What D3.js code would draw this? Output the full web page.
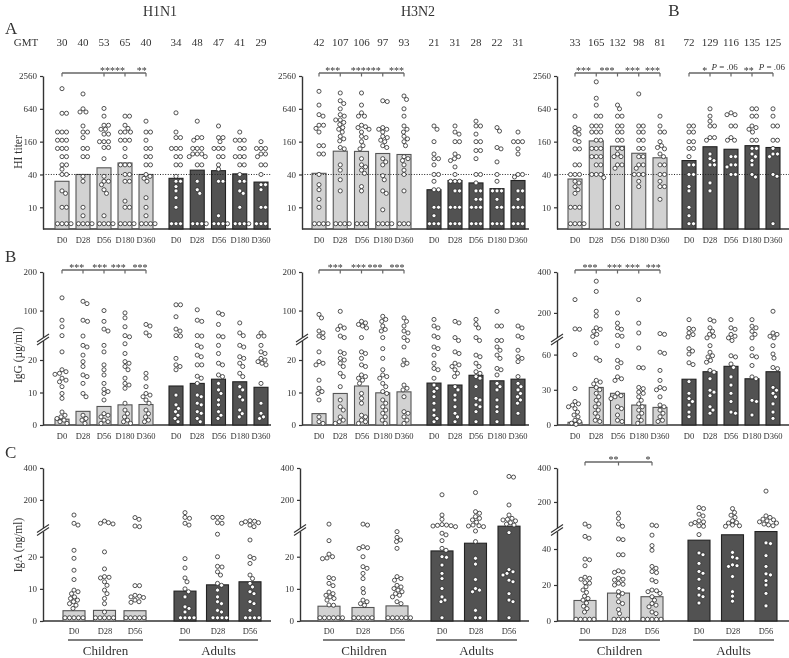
<!DOCTYPE html>
<html><head><meta charset="utf-8">
<script src="https://cdn.jsdelivr.net/npm/d3@7"></script>
<style>
body{margin:0;background:#fff}
svg{display:block;opacity:0.999;transform:translateZ(0)}
text{font-family:"Liberation Serif","DejaVu Serif",serif;fill:#333}
</style>
</head><body><svg id="c" width="789" height="658"></svg>
<script>
// ---------------- DATA ----------------
const strains = ["H1N1","H3N2","B"];
const days5 = ["D0","D28","D56","D180","D360"];
const days3 = ["D0","D28","D56"];
const groups = ["Children","Adults"];

const gmtChildren = [[30,40,53,65,40],[42,107,106,97,93],[33,165,132,98,81]];
const gmtAdults   = [[34,48,47,41,29],[21,31,28,22,31],[72,129,116,135,125]];
const hiTicks = [10,40,160,640,2560];

const hiChildren = [
 [[1500,530,530,240,240,240,170,170,170,120,120,120,85,85,60,60,50,40,40,20,18,10,10,5,5,5,5],
  [1200,640,560,560,310,240,240,190,120,120,85,85,37,30,10,7,5,5,5,5],
  [650,470,320,320,270,270,220,220,160,160,160,125,125,78,37,30,30,26,21,18,7,5,5,5,5],
  [470,470,320,280,240,240,240,170,170,170,120,85,60,60,60,40,40,30,30,13,10,10,5,5,5,5],
  [380,240,240,170,120,120,85,85,60,60,40,37,34,30,15,10,7,5,5,5,5]],
 [[1340,750,500,470,320,320,280,240,135,135,95,95,40,26,21,14,10,5,5,5,5],
  [1250,900,800,640,500,470,400,400,360,330,290,270,240,200,180,165,125,118,60,48,32,20,5,5,5,5],
  [1250,750,540,470,470,320,300,290,270,240,200,190,160,135,118,78,60,55,48,42,24,20,5,5,5],
  [900,870,290,270,270,240,200,190,170,160,135,125,78,68,60,38,32,20,18,9,5,5,5,5],
  [1100,950,640,470,310,270,240,200,180,160,135,85,78,72,60,48,40,20,5,5,5]],
 [[470,290,270,240,220,170,160,118,118,60,60,40,40,40,30,28,24,21,18,10,10,10,5,5,5,5],
  [2000,1000,750,470,470,310,310,310,240,240,240,170,170,120,120,120,85,85,85,60,60,40,40,40,35],
  [750,640,470,470,310,310,240,240,170,170,120,120,95,85,85,60,60,52,10,5],
  [1200,310,310,240,240,170,170,120,120,85,85,60,60,52,40,40,40,30,24],
  [470,310,240,240,160,135,125,118,95,85,60,60,40,40,30,24,24,14]]
];
const hiAdults = [
 [[540,240,190,190,120,120,120,85,85,60,60,37,30,30,24,20,15,10,5,5,5],
  [380,190,190,170,120,120,120,95,95,95,85,85,60,60,30,21,18,5,5,5,5],
  [310,190,190,160,120,120,120,85,85,60,50,30,30,7,5,5,5,5],
  [240,170,170,170,120,120,85,85,85,60,60,40,30,30,20,18,10,5,5,5,5],
  [160,120,120,120,95,95,85,60,60,40,26,26,21,10,10,5,5,5]],
 [[310,270,160,95,78,78,60,40,40,30,21,21,10,10,7,5,5,5],
  [310,240,220,160,160,95,85,78,72,55,40,30,30,30,20,20,10,10,10,5,5,5],
  [380,310,310,220,160,160,110,110,78,40,40,28,20,20,14,14,10,10,10,5,5,5],
  [290,250,125,118,68,40,30,20,20,20,14,10,10,5,5,5],
  [240,160,160,160,118,95,40,40,36,20,20,14,10,10,10,5,5,5]],
 [[310,310,240,240,160,160,120,120,85,60,60,40,40,24,20,10,7,5,5],
  [640,470,380,310,310,190,190,170,95,78,72,60,60,28,20],
  [540,500,500,310,310,190,170,170,85,85,60,60,55,40,40],
  [640,640,470,470,310,290,270,240,170,170,120,120,95,85,72,60,40,36],
  [640,470,310,310,170,170,120,95,95,85,40,37,5]]
];

const igGChildMean = [[1.8,4.2,5.7,6.2,6.3],[3.5,9.7,12,9.9,10.2],[2.3,32,27,17,15]];
const igGAdultMean = [[12,12.8,14.1,13.3,11.6],[12.9,12.3,15.3,13.6,14.1],[39,45.4,50,39.4,45.4]];
const igGTicksLow = [[0,10,20],[0,10,20],[0,30,60]];
const igGTicksHigh = [[100,200],[100,200],[200,400]];

const igGChildren = [
 [[133,75,58,35,22.5,17,16.4,15.9,15.6,14.4,13.8,13.3,11.8,9.7,8.2,4,3,2.5,2,1.5,1,0.5],
  [124,118,75,72,34,24.5,24,21.5,19.5,18,15.4,14.9,12.8,9.7,8.7,3,2,1.5,0.5],
  [100,72,52,47,24.5,22.5,18.5,17,15.4,12.8,11,10.3,9.7,7.7,3.5,3,2.5,1.5,1,0.5],
  [94,81,58,35,32,25,22,19.5,19,18,17,14.4,12.8,12.3,11.3,6.7,4.6,3.5,2.5,1.5,1,0.5],
  [64,60,42,35,15.9,14.4,11.8,9.7,9.2,8.7,7.7,6.7,4.6,3.5,2.5,1.5,1]],
 [[90,81,47,42,34,30,22.5,19.5,19,18.5,13.8,11.3,10.3,9.7,7.7,2.5,1,0.5],
  [98,60,55,51,34,30,22.5,22,20.5,20,19,18,15.9,14.9,11.8,7.7,5.6,4.6,2.5,1.5,1,0.5],
  [72,68,64,60,55,30,22.5,22,20.5,18.5,18,15.4,14.9,14.4,13.8,12.8,9.7,8.2,6.7,3,2.5,1.5,1,0.5],
  [85,77,72,60,51,47,30,23.5,20.5,17,15.4,14.9,14.4,12.8,11.8,10.3,9.7,7.7,6.7,5.6,4.6,3.6,2.5,1.5,0.5],
  [81,72,60,47,42,30,26,24,20,19,18.5,12.3,11.3,10.8,8.7,4.1,3.6,2.5,1.5,0.5]],
 [[265,122,120,60,31,20,18,17,15.5,14,11,8.5,7,4,3,1.5,0.5],
  [355,305,208,185,127,120,110,95,85,70,57,55,38,36.6,35,32,30,27,24,21,18,15.5,12.7,10,7,4,3],
  [200,150,127,120,90,86,67.6,55,53,49,41,39.4,38,27,25,24,22.5,15.5,14,8.5,4,3],
  [265,150,102,65.6,49,48.7,32,31,28,27,24,21,18,15.5,12.7,10,7,4,1.5],
  [99,95,62,61,46.5,38,32,31,30,24,17,15.5,12.7,10,7,4,3]]
];
const igGAdults = [
 [[115,115,84,52,47,35,34,20.5,18.5,18,17,9.2,6.2,5.1,4.1,3,2,1],
  [102,75,72,35,34,24.5,24,21.5,21,18.5,18.5,15,14.4,12.8,9.2,8.7,6.7,6.2,4.1,3.6,2,1],
  [94,90,64,34,32,24.5,22,19,18.5,15.4,14.9,12.8,10.8,9.7,7.7,6.2,4.1,3,2],
  [68,42,35,24.5,24,21,20.5,19,18,15.9,14.9,11.8,10.8,8.7,7.7,4.6,3.5,2.5],
  [42,34,33,24.5,22.5,22,20.5,20,19.5,19,18.5,12.8,6.7,3.6,2.5,2]],
 [[77,60,55,34,30,24,23.5,21.5,19,17.4,17,14.4,12.3,11.3,10.3,8.7,6.7,4.6,3,2,1],
  [72,68,30,26,22.5,22,19,18.5,18,17,15.9,14.9,11.8,10.8,9.2,7.7,5.6,3.6,2.5,1],
  [77,64,55,30,26,21.5,21,19,18,16.4,15.9,14.9,14.4,11.8,8.2,7.7,6.2,5.6,4.1,1],
  [98,60,60,26,26,24,23,21.5,20.5,17.4,17,15.4,12.8,11.8,10.8,7.7,5.6,4.1,1],
  [60,55,34,30,23,21,20.5,19.5,14.9,12.8,11.8,10.8,9.7,8.7,7.7,6.7,3.6]],
 [[167,124,120,102,94,82,65,63,60.5,53,51.5,37,27,22.5,20,17,11,7],
  [167,160,127,110,95,86,78,67.6,62,59,58,55,53.5,46.5,45,39.4,29.6,28,25,15.5,12.7,10],
  [167,127,120,95,86,78,72,59,58,52,49,41,34,27,20,11,10],
  [167,135,127,110,95,78,65,59,58,50.7,41,39.4,21,20,8.5],
  [208,102,95,86,78,67.6,60.5,57,49,48,32,29.6,27,24,18,11,5.6]]
];

const igAChildMean = [[3.2,3.3,3.2],[4.6,4.2,4.7],[11.4,15.5,13.5]];
const igAAdultMean = [[9.3,11.25,12.2],[21.8,24.2,35],[44.9,47.9,49.7]];
const igATicksLow = [[0,10,20],[0,10,20],[0,20,40]];
const igATicksHigh = [[200,400],[200,400],[200,400]];

const igAChildren = [
 [[105,53,42,22,19.5,15.8,12.9,9.6,9.1,8.5,7.5,7,6.5,6,5.4,4.9,3.9,1,1,1,1,1],
  [67,57,53,49,21.5,16.2,13.8,13.6,13.4,12.2,11.1,9.6,8.5,7,5.4,2.8,1,1,1,1,1],
  [89,78,36,32,11,11,8,7.7,7.5,7.3,6.5,6,5.8,1,1,1,1,1]],
 [[48,25,20.8,20,19.6,19.4,13.5,13.2,11.7,11,9,8.5,8,7.5,7,6.5,5,4.9,1,1,1,1,1,1],
  [48,42,23.1,22.8,22.6,20,16.9,16.4,14.8,13.2,10.1,8.8,6.5,6,5.4,4.9,1,1,1,1,1],
  [27.8,26,25.2,24.7,22.6,13.8,13.2,12.7,11.1,10.6,10.1,9.6,9.1,8.5,8,7.5,6,5.4,1,1,1,1,1,1]],
 [[70,57,47,46,34.4,34,30.7,24.3,23.7,23.2,21.3,21,19,17.2,15.9,13.8,12.5,11.6,10,8.2,6.9,5,1,1,1,1,1],
  [134,103,70,57,45.6,45.2,36.8,36.8,27.9,27.3,27,23.7,23.2,22.8,21,20.4,20,16.3,15.3,13.8,10.7,9.7,6.4,4.1,1,1,1,1],
  [64,60,47.7,41.9,39.3,30.3,29.3,27.5,26.9,22.8,21.9,17.2,16.8,16.3,15.3,13.5,11.6,9.7,8.8,7.9,5,4.1,1,1,1,1,1]]
];
const igAAdults = [
 [[120,90,84,53,42,19.4,16.5,13.4,12.2,10,9.1,7.5,4.4,3.9,2.8,1,1,1,1],
  [90,90,90,57,53,27,20,17,16.8,15.3,14.3,11.7,11.1,9.6,7.5,6,5.4,3.3,2.8,1,1,1,1],
  [69,66,63,57,53,42,32,25.2,20,19.5,17.9,14.3,13.2,11.7,10.6,9.1,8.5,6,5.4,3.3,1,1,1,1]],
 [[232,105,78,45,42,40,38,36,32,27.3,26.8,25,22.6,22,20,19.8,17.4,14.8,13.2,10.1,7.5,6.5,6,1],
  [246,126,116,95,84,74,60,42,38,36,32,28,24.7,19.5,17.7,12.9,10.1,9.6,9.1,3.3,1,1],
  [347,343,168,105,84,78,74,68,57,48,42,27.5,16,15.3,14.8,14.3,12.7,12.2,8.5,6.5,6,1]],
 [[167,161,128,118,89,83,79,70,60,57,48,37.8,36.8,32,27.5,26.5,23.2,18.1,17.2,14.4,13.5,10],
  [161,138,122,109,89,79,76,64,60,57,38.1,35.5,34.9,31.2,30.7,30.3,24.7,16.3,13.8,11],
  [264,118,109,99,95,89,83,76,70,65,60,43.4,43,36.3,30.3,26.2,25.6,22.4,20,15.3,8.4]]
];

// significance annotations: [text, fromDay, toDay, fraction]
const sigA = [
 [{grp:0, from:"D0", to:"D360", ticks:["D0","D56","D180","D360"], labels:[["*****","D56","D180",0.4],["**","D180","D360",0.8]]}],
 [{grp:0, from:"D0", to:"D360", ticks:days5, labels:[["***","D0","D28",0.65],["******","D56","D180",0.2],["***","D180","D360",0.65]]}],
 [{grp:0, from:"D0", to:"D360", ticks:days5, labels:[["***","D0","D28",0.4],["***","D28","D56",0.5],["***","D56","D180",0.7],["***","D180","D360",0.65]]},
  {grp:1, from:"D0", to:"D360", ticks:days5, labels:[["*","D0","D28",0.75],["P = .06","D28","D56",0.7],["**","D56","D180",0.85],["P = .06","D180","D360",0.95]]}]
];
const sigB = [
 [{grp:0, from:"D0", to:"D360", ticks:days5, labels:[["***","D0","D28",0.7],["***","D28","D56",0.8],["***","D56","D180",0.68],["***","D180","D360",0.71]]}],
 [{grp:0, from:"D0", to:"D360", ticks:days5, labels:[["***","D0","D28",0.76],["***","D28","D56",0.86],["***","D56","D180",0.64],["***","D180","D360",0.67]]}],
 [{grp:0, from:"D0", to:"D360", ticks:days5, labels:[["***","D0","D28",0.71],["***","D28","D56",0.86],["***","D56","D180",0.71],["***","D180","D360",0.68]]}]
];
const sigC = [
 [], [],
 [{grp:0, from:"D0", to:"D56", ticks:days3, labels:[["**","D0","D28",0.85],["*","D28","D56",0.88]]}]
];

// ---------------- LAYOUT ----------------
const svg = d3.select("#c");
const COL_LIGHT = "#d2d2d2", COL_DARK = "#525252";
const panelsAB = [
  {axis:43, end:271, ch:[62,146], ad:[176,261]},
  {axis:302, end:529, ch:[319,404], ad:[434,518]},
  {axis:557, end:789, ch:[575,660], ad:[689,773]}
];
const panelsC = [
  {axis:43, end:271, ch:[74,135], ad:[185,250]},
  {axis:300, end:529, ch:[329,397], ad:[442,509]},
  {axis:557, end:789, ch:[585,652], ad:[699,766]}
];

function broken(lowD, lowR, upD, upR){
  const lo = d3.scaleLinear().domain(lowD).range(lowR);
  const up = d3.scaleLinear().domain(upD).range(upR);
  const f = v => v <= lowD[1] ? lo(v) : up(v);
  f.lo = lo; f.up = up; f.base = lo(0); f.brk = (lowR[1]+upR[0])/2;
  return f;
}

function swarm(ys, cx, r){
  const placed = [];
  const order = ys.map((y,i)=>({y,i})).sort((a,b)=>a.y-b.y);
  const out = new Array(ys.length);
  const md = 2*r;
  for(const p of order){
    let x = cx;
    for(let k=0;k<400;k++){
      const off = (k%2 ? 1 : -1) * Math.ceil(k/2) * 0.5;
      const cxp = cx + off;
      if(placed.every(q => (q.x-cxp)**2 + (q.y-p.y)**2 >= md*md - 0.01)){ x = cxp; break; }
    }
    placed.push({x, y:p.y});
    out[p.i] = {x, y:p.y};
  }
  return out;
}

function drawPoints(vals, cx, y){
  const pos = swarm(vals.map(v=>y(v)), cx, 2.1);
  svg.append("g").selectAll("circle").data(pos).join("circle")
    .attr("cx",d=>d.x).attr("cy",d=>d.y).attr("r",2.05)
    .attr("fill","#fff").attr("stroke","#2a2a2a").attr("stroke-width",0.8);
}

function styleAxis(g){
  g.select(".domain").attr("stroke","#333").attr("stroke-width",1.4);
  g.selectAll(".tick line").attr("stroke","#333").attr("stroke-width",1.2);
  g.selectAll(".tick text").attr("font-size",9).attr("fill","#333")
    .style("font-family",'"Liberation Serif",serif');
}

function drawBrokenAxis(x, y, lowTicks, highTicks){
  const gl = svg.append("g").attr("transform",`translate(${x},0)`)
    .call(d3.axisLeft(y.lo).tickValues(lowTicks).tickSize(3).tickSizeOuter(0).tickFormat(d3.format("d")));
  styleAxis(gl);
  const gu = svg.append("g").attr("transform",`translate(${x},0)`)
    .call(d3.axisLeft(y.up).tickValues(highTicks).tickSize(3).tickSizeOuter(0).tickFormat(d3.format("d")));
  styleAxis(gu);
  const b = y.brk;
  svg.append("path").attr("d",`M${x-6},${b+5} L${x+6},${b-3} L${x+6},${b-6} L${x-6},${b+2} Z`).attr("fill","#fff");
  [0,3].forEach(o=>{
    svg.append("line").attr("x1",x-6).attr("y1",b+5-o).attr("x2",x+6).attr("y2",b-3-o)
      .attr("stroke","#333").attr("stroke-width",1.1);
  });
}

function drawBracket(spec, xs, yLine){
  const xsc = xs[spec.grp];
  svg.append("line").attr("x1",xsc(spec.from)).attr("x2",xsc(spec.to)).attr("y1",yLine).attr("y2",yLine)
    .attr("stroke","#666").attr("stroke-width",1.4);
  spec.ticks.forEach(t=>{
    svg.append("line").attr("x1",xsc(t)).attr("x2",xsc(t)).attr("y1",yLine).attr("y2",yLine+3.5)
      .attr("stroke","#666").attr("stroke-width",1.2);
  });
  spec.labels.forEach(([txt,a,b,t])=>{
    const x = xsc(a) + t*(xsc(b)-xsc(a));
    const isP = txt.startsWith("P");
    const te = svg.append("text").attr("x",x).attr("y",yLine + (isP ? -3 : 1)).attr("text-anchor","middle")
      .attr("font-size", isP ? 9 : 10).attr("fill","#555");
    if(isP){
      te.append("tspan").attr("font-style","italic").text("P");
      te.append("tspan").text(txt.slice(1));
    } else te.text(txt);
  });
}

function xLabels(xs, days, yText, size){
  xs.forEach(xsc=>{
    days.forEach(d=>{
      svg.append("text").attr("x",Math.round(xsc(d))).attr("y",yText).attr("text-anchor","middle")
        .attr("font-size",size).attr("fill","#333").text(d);
    });
  });
}

function drawBars(xsc, days, means, y, base, w, fill, stroke){
  svg.append("g").selectAll("rect").data(days).join("rect")
    .attr("x",d=>xsc(d)-w/2).attr("width",w)
    .attr("y",(d,i)=>y(means[i])).attr("height",(d,i)=>base-y(means[i]))
    .attr("fill",fill).attr("stroke",stroke).attr("stroke-width",1.1);
}

// ---------- Titles ----------
const titleX = [160, 418, 674];
strains.forEach((s,i)=>svg.append("text").attr("x",titleX[i]).attr("y",16).attr("text-anchor","middle")
  .attr("font-size", s==="B"?17:14).text(s));
[["A",34],["B",262],["C",458]].forEach(([t,yy])=>svg.append("text").attr("x",5).attr("y",yy)
  .attr("font-size",17).text(t));
svg.append("text").attr("x",26).attr("y",46).attr("text-anchor","middle").attr("font-size",11).text("GMT");
[["HI titer",152],["IgG (µg/ml)",355],["IgA (ng/ml)",545]].forEach(([t,yy])=>
  svg.append("text").attr("transform",`translate(22,${yy}) rotate(-90)`).attr("text-anchor","middle")
    .attr("font-size",11.5).text(t));

// ---------- Row A: HI titer ----------
const yA = d3.scaleLog().base(2).domain([4,2560]).range([229,76]);
panelsAB.forEach((p,i)=>{
  const xs = [d3.scalePoint().domain(days5).range(p.ch), d3.scalePoint().domain(days5).range(p.ad)];
  xs.forEach((xsc,g)=>days5.forEach((d,k)=>svg.append("text").attr("x",xsc(d)).attr("y",46)
    .attr("text-anchor","middle").attr("font-size",11).text((g?gmtAdults:gmtChildren)[i][k])));
  const ga = svg.append("g").attr("transform",`translate(${p.axis},0)`)
    .call(d3.axisLeft(yA).tickValues(hiTicks).tickSize(3).tickSizeOuter(0).tickFormat(d3.format("d")));
  styleAxis(ga);
  svg.append("line").attr("x1",p.axis).attr("x2",p.end).attr("y1",yA(4)).attr("y2",yA(4))
    .attr("stroke","#333").attr("stroke-width",1.4);
  drawBars(xs[0], days5, gmtChildren[i], yA, yA(4), 14, COL_LIGHT, "#555");
  drawBars(xs[1], days5, gmtAdults[i], yA, yA(4), 14, COL_DARK, "#222");
  svg.append("line").attr("x1",p.axis).attr("x2",p.end).attr("y1",yA(40)).attr("y2",yA(40))
    .attr("stroke","#222").attr("stroke-width",1).attr("stroke-dasharray","1,1.6");
  days5.forEach((d,k)=>{
    drawPoints(hiChildren[i][k], xs[0](d), yA);
    drawPoints(hiAdults[i][k], xs[1](d), yA);
  });
  sigA[i].forEach(s=>drawBracket(s, xs, 73));
  xLabels(xs, days5, 243, 8.5);
});

// ---------- Row B: IgG ----------
const yB = [
  broken([0,26],[425,340.5],[25,200],[339.5,272]),
  broken([0,26],[425,340.5],[25,200],[339.5,272]),
  broken([0,72],[425,340.5],[70,400],[339.5,272])
];
panelsAB.forEach((p,i)=>{
  const xs = [d3.scalePoint().domain(days5).range(p.ch), d3.scalePoint().domain(days5).range(p.ad)];
  const y = yB[i];
  svg.append("line").attr("x1",p.axis).attr("x2",p.end).attr("y1",y.base).attr("y2",y.base)
    .attr("stroke","#333").attr("stroke-width",1.4);
  drawBars(xs[0], days5, igGChildMean[i], y, y.base, 14, COL_LIGHT, "#555");
  drawBars(xs[1], days5, igGAdultMean[i], y, y.base, 14, COL_DARK, "#222");
  days5.forEach((d,k)=>{
    drawPoints(igGChildren[i][k], xs[0](d), y);
    drawPoints(igGAdults[i][k], xs[1](d), y);
  });
  drawBrokenAxis(p.axis, y, igGTicksLow[i], igGTicksHigh[i]);
  sigB[i].forEach(s=>drawBracket(s, xs, 270));
  xLabels(xs, days5, 439, 8.5);
});

// ---------- Row C: IgA ----------
const yC = [
  broken([0,28],[621,531],[11,400],[530,468]),
  broken([0,28],[621,531],[11,400],[530,468]),
  broken([0,50],[621,531],[35,400],[530,468])
];
panelsC.forEach((p,i)=>{
  const xs = [d3.scalePoint().domain(days3).range(p.ch), d3.scalePoint().domain(days3).range(p.ad)];
  const y = yC[i];
  svg.append("line").attr("x1",p.axis).attr("x2",p.end).attr("y1",y.base).attr("y2",y.base)
    .attr("stroke","#333").attr("stroke-width",1.4);
  drawBars(xs[0], days3, igAChildMean[i], y, y.base, 22, COL_LIGHT, "#555");
  drawBars(xs[1], days3, igAAdultMean[i], y, y.base, 22, COL_DARK, "#222");
  days3.forEach((d,k)=>{
    drawPoints(igAChildren[i][k], xs[0](d), y);
    drawPoints(igAAdults[i][k], xs[1](d), y);
  });
  drawBrokenAxis(p.axis, y, igATicksLow[i], igATicksHigh[i]);
  sigC[i].forEach(s=>drawBracket(s, xs, 462));
  xLabels(xs, days3, 634, 8.5);
  xs.forEach((xsc,g)=>{
    const x0 = xsc("D0")-6, x1 = xsc("D56")+8;
    svg.append("line").attr("x1",x0).attr("x2",x1).attr("y1",640).attr("y2",640)
      .attr("stroke","#555").attr("stroke-width",1.3);
    svg.append("text").attr("x",(x0+x1)/2).attr("y",655).attr("text-anchor","middle")
      .attr("font-size",13).text(groups[g]);
  });
});
</script></body></html>
